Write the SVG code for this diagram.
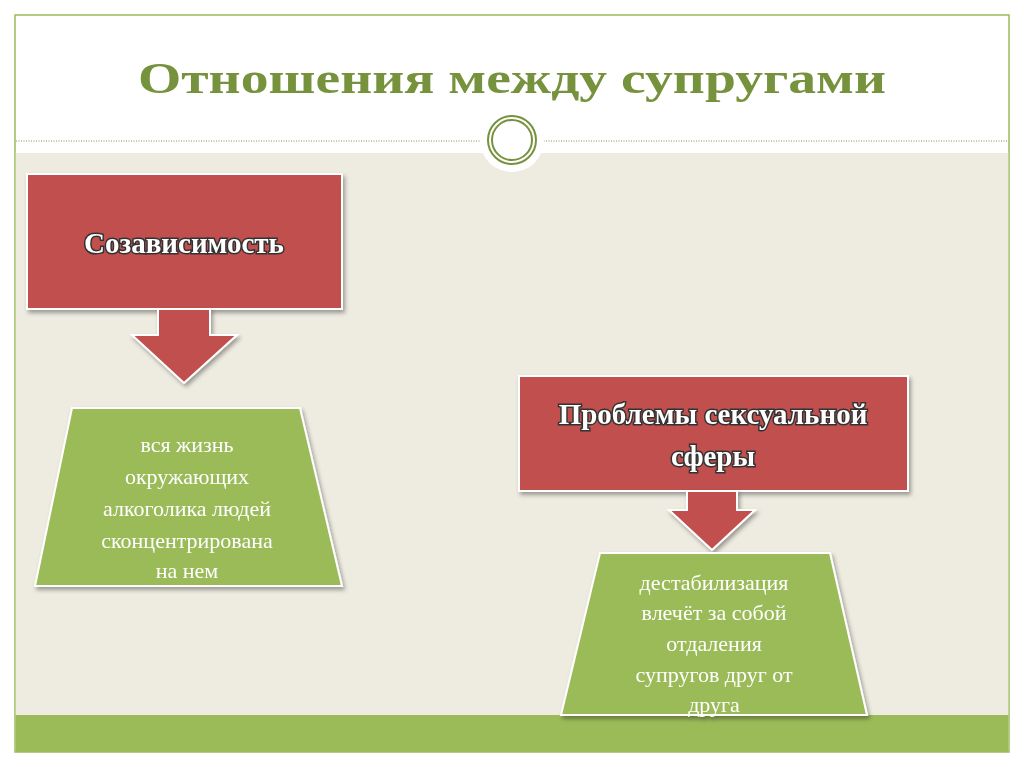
<svg xmlns="http://www.w3.org/2000/svg" width="1024" height="767" viewBox="0 0 1024 767">
<defs>
<style>
.red{fill:#C0504D;stroke:#fff;stroke-width:2}
.grn{fill:#9BBB59;stroke:#fff;stroke-width:2}
.rt{font-family:"Liberation Serif",serif;font-weight:bold;font-size:29px;fill:#fff;stroke:#333;stroke-width:3;paint-order:stroke;text-anchor:middle}
.gt{font-family:"Liberation Serif",serif;font-size:22px;fill:#fff;text-anchor:middle}
</style>
<filter id="sh" x="-10%" y="-10%" width="130%" height="130%"><feDropShadow dx="2" dy="3" stdDeviation="2" flood-opacity="0.35"/></filter>
</defs>
<rect width="1024" height="767" fill="#fff"/>
<rect x="15" y="15" width="994" height="737" fill="#fff" stroke="#9BBB59" stroke-width="1.5"/>
<rect x="15.8" y="153" width="992.4" height="562" fill="#EEECE1"/>
<rect x="15.8" y="715" width="992.4" height="37" fill="#9BBB59"/>
<line x1="16" y1="141" x2="1008" y2="141" stroke="#76923C" stroke-dasharray="1,1.5"/>
<circle cx="512" cy="140" r="32" fill="#fff"/>
<circle cx="512" cy="140" r="24" fill="none" stroke="#76923C" stroke-width="2"/>
<circle cx="512" cy="140" r="20" fill="none" stroke="#76923C" stroke-width="2"/>
<text x="512" y="93" font-family="Liberation Serif,serif" font-weight="bold" font-size="44" fill="#76923C" text-anchor="middle" textLength="748" lengthAdjust="spacingAndGlyphs">Отношения между супругами</text>
<g id="codep" filter="url(#sh)">
<rect class="red" x="27" y="174" width="315" height="135"/>
<text class="rt" x="184" y="253">Созависимость</text>
</g>
<g id="problems" filter="url(#sh)">
<rect class="red" x="519" y="376" width="389" height="115"/>
<text class="rt" x="713" y="424">Проблемы сексуальной</text>
<text class="rt" x="713" y="466">сферы</text>
</g>
<g id="connectors" filter="url(#sh)">
<polygon class="red" points="158,309 210,309 210,335 237,335 184,383 132,335 158,335"/>
<polygon class="red" points="687,491 737,491 737,510 755,510 712,550 669,510 687,510"/>
</g>
<g id="life" filter="url(#sh)">
<polygon class="grn" points="72,408 300,408 342,586 35,586"/>
<text class="gt" x="187" y="452">вся жизнь</text>
<text class="gt" x="187" y="484">окружающих</text>
<text class="gt" x="187" y="516">алкоголика людей</text>
<text class="gt" x="187" y="548">сконцентрирована</text>
<text class="gt" x="187" y="578">на нем</text>
</g>
<g id="destab" filter="url(#sh)">
<polygon class="grn" points="600,553 830,553 867,715 561,715"/>
<text class="gt" x="714" y="590">дестабилизация</text>
<text class="gt" x="714" y="620">влечёт за собой</text>
<text class="gt" x="714" y="651">отдаления</text>
<text class="gt" x="714" y="682">супругов друг от</text>
<text class="gt" x="714" y="712">друга</text>
</g>
</svg>
